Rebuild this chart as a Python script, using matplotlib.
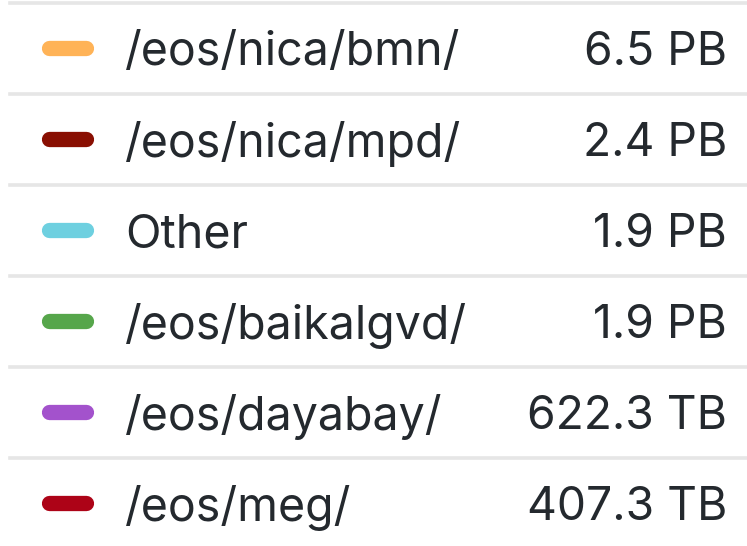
import matplotlib
matplotlib.use("Agg")
import matplotlib.pyplot as plt

# legend table data
labels = ["/eos/nica/bmn/", "/eos/nica/mpd/", "Other", "/eos/baikalgvd/", "/eos/dayabay/", "/eos/meg/"]
values = ["6.5 PB", "2.4 PB", "1.9 PB", "1.9 PB", "622.3 TB", "407.3 TB"]
colors = ["#FFB357", "#890F02", "#6ED0E0", "#56A64B", "#A352CC", "#AD0317"]

W, H = 747, 546
fig = plt.figure(figsize=(W / 100, H / 100), dpi=100)
ax = fig.add_axes([0, 0, 1, 1])
ax.set_xlim(0, W)
# rows are 91 px apart, first row centred at 48 px from the top
ax.set_ylim((H - 48) / 91, -48 / 91)
ax.axis("off")

text_color = "#24292E"
for i, (lab, val, col) in enumerate(zip(labels, values, colors)):
    ax.axhline(i - 0.5, xmin=10 / W, xmax=1, color="#E6E6E6", lw=2.6)
    ax.plot([49, 86], [i, i], color=col, lw=11, solid_capstyle="round")
    ax.text(125, i, lab, fontsize=33.5, family="Inter", color=text_color,
            va="center_baseline", ha="left")
    ax.text(727, i, val, fontsize=33.3, family="Inter", color=text_color,
            va="center_baseline", ha="right")

fig.savefig("out.png", dpi=100, facecolor="white")
